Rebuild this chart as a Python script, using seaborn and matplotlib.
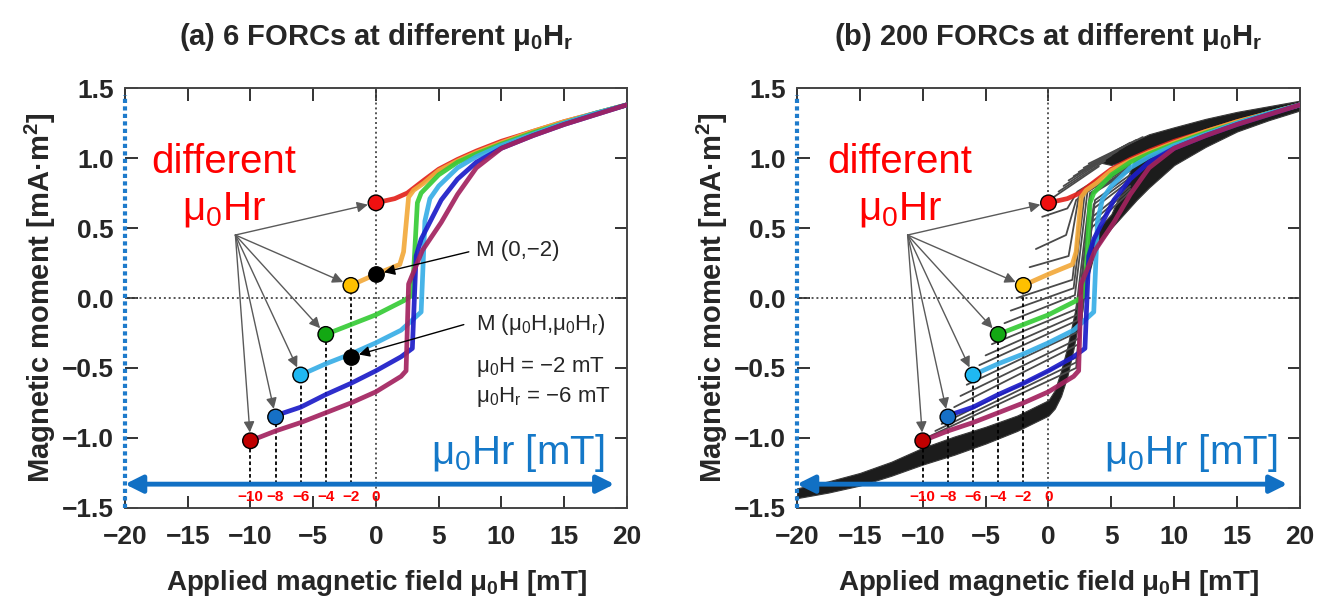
import matplotlib
matplotlib.use("Agg")
import matplotlib.pyplot as plt
import pandas as pd
import seaborn as sns

# ---- data ----
x_ticks = [-20, -15, -10, -5, 0, 5, 10, 15, 20]
y_ticks = [-1.5, -1.0, -0.5, 0.0, 0.5, 1.0, 1.5]
x_ticklabels = ["\u221220", "\u221215", "\u221210", "\u22125", "0", "5", "10", "15", "20"]
y_ticklabels = ["\u22121.5", "\u22121.0", "\u22120.5", "0.0", "0.5", "1.0", "1.5"]

# reversal fields of the 6 coloured FORCs and moment at reversal
hr_list = [0, -2, -4, -6, -8, -10]
hr_labels = ["0", "\u22122", "\u22124", "\u22126", "\u22128", "\u221210"]
m_start = [0.68, 0.09, -0.26, -0.55, -0.85, -1.02]
line_colors = ["#E3221C", "#F2A93B", "#36CB36", "#38AEE6", "#1C1CC8", "#A3235F"]
dot_colors = ["#F01010", "#FFC000", "#13A813", "#1FB8F2", "#1670C6", "#C00000"]

H_0 = [0, 1.5, 2.5, 3.8, 5, 6.5, 8, 10, 12.5, 15, 17.5, 20]
M_0 = [0.68, 0.71, 0.75, 0.84, 0.92, 0.99, 1.05, 1.12, 1.19, 1.26, 1.32, 1.38]
H_2 = [-2, 0, 1.9, 2.2, 2.6, 3.0, 3.8, 5, 6.5, 8, 10, 12.5, 15, 17.5, 20]
M_2 = [0.09, 0.17, 0.24, 0.33, 0.72, 0.77, 0.82, 0.91, 0.98, 1.04, 1.11, 1.19, 1.26, 1.32, 1.38]
H_4 = [-4, -2, 0, 2.2, 2.9, 3.3, 3.6, 5, 6.5, 8, 10, 12.5, 15, 17.5, 20]
M_4 = [-0.26, -0.19, -0.12, -0.02, 0.02, 0.68, 0.75, 0.88, 0.97, 1.03, 1.10, 1.18, 1.25, 1.32, 1.38]
H_6 = [-6, -4, -2, 0, 2, 3.6, 3.9, 4.3, 5, 6.5, 8, 10, 12.5, 15, 17.5, 20]
M_6 = [-0.55, -0.47, -0.40, -0.32, -0.23, -0.10, 0.55, 0.71, 0.80, 0.93, 1.01, 1.09, 1.17, 1.25, 1.32, 1.38]
H_8 = [-8, -6, -4, -2, 0, 2, 2.9, 3.2, 3.6, 5.2, 6.5, 8, 10, 12.5, 15, 17.5, 20]
M_8 = [-0.84, -0.78, -0.69, -0.61, -0.52, -0.42, -0.36, 0.30, 0.42, 0.70, 0.85, 0.97, 1.07, 1.16, 1.24, 1.31, 1.38]
H_10 = [-10, -8, -6, -4, -2, 0, 2, 2.4, 2.6, 3.7, 5.2, 6.5, 8, 10, 12.5, 15, 17.5, 20]
M_10 = [-1.02, -0.95, -0.89, -0.82, -0.75, -0.67, -0.56, -0.52, 0.10, 0.34, 0.54, 0.74, 0.93, 1.07, 1.16, 1.24, 1.31, 1.38]
forc_H = [H_0, H_2, H_4, H_6, H_8, H_10]
forc_M = [M_0, M_2, M_4, M_6, M_8, M_10]

# extra grey FORCs of panel (b): start, knee, top of jump, end
gray_Hr = [-9.5, -9, -8.5, -7.5, -7, -6.5, -5.5, -5, -4.5, -3.5, -3, -2.5, -1.5, -1, -0.5]
gray_M0 = [-0.99, -0.95, -0.90, -0.78, -0.70, -0.62, -0.48, -0.41, -0.33, -0.18, -0.09, 0.00, 0.22, 0.35, 0.58]
gray_Hk = [2.2, 2.2, 2.3, 2.4, 2.4, 2.4, 2.3, 2.3, 2.2, 2.1, 2.0, 1.9, 1.6, 1.4, 1.5]
gray_Mk = [-0.50, -0.46, -0.42, -0.33, -0.29, -0.24, -0.16, -0.12, -0.08, 0.02, 0.07, 0.13, 0.30, 0.45, 0.64]
gray_Ht = [3.4, 3.4, 3.5, 3.6, 3.6, 3.7, 3.4, 3.4, 3.3, 3.1, 2.9, 2.7, 2.4, 2.2, 2.3]
gray_Mt = [0.50, 0.54, 0.58, 0.64, 0.67, 0.70, 0.74, 0.75, 0.75, 0.76, 0.76, 0.75, 0.72, 0.70, 0.76]
gray_He = [6.5, 6.5, 6.5, 6.5, 6.5, 6.5, 6.5, 6.5, 6.5, 6.5, 6.5, 6.5, 6.5, 6.5, 6.5]
gray_Me = [0.76, 0.78, 0.80, 0.84, 0.86, 0.88, 0.91, 0.92, 0.93, 0.94, 0.95, 0.96, 0.97, 0.98, 0.99]

fan_Hr = [0.4, 0.8, 1.2, 1.6, 2.0, 2.4, 2.8, 3.2]
fan_M0 = [0.72, 0.76, 0.80, 0.84, 0.87, 0.90, 0.93, 0.96]
fan_He = [4.0, 4.5, 5.0, 5.5, 6.0, 6.5, 7.0, 7.5]
fan_Me = [0.94, 0.98, 1.02, 1.05, 1.08, 1.11, 1.13, 1.15]

# dense black bundle of the many FORCs in panel (b)
band_H = [-20, -17.5, -15, -12.5, -10, -7.5, -5, -2.5, 0, 0.5, 1, 1.5, 2, 2.5, 3, 3.5, 4,
          5, 6, 7, 8, 10, 12.5, 15, 17.5, 20]
band_lo = [-1.43, -1.39, -1.34, -1.27, -1.19, -1.12, -1.04, -0.95, -0.84, -0.79, -0.70, -0.56,
           -0.36, -0.12, 0.10, 0.27, 0.38, 0.50, 0.60, 0.70, 0.79, 0.95, 1.08, 1.19, 1.27, 1.34]
band_hi = [-1.36, -1.31, -1.25, -1.17, -1.07, -0.99, -0.92, -0.84, -0.73, -0.66, -0.52, -0.35,
           -0.14, 0.08, 0.28, 0.42, 0.50, 0.60, 0.80, 1.02, 1.06, 1.12, 1.19, 1.26, 1.32, 1.38]
cap_H = [4, 5, 6, 7, 8, 10, 12.5, 15, 17.5, 20]
cap_lo = [0.97, 0.95, 0.98, 1.02, 1.06, 1.12, 1.19, 1.26, 1.32, 1.38]
cap_hi = [1.00, 1.04, 1.09, 1.13, 1.17, 1.22, 1.28, 1.33, 1.37, 1.41]

arrow_origin = (-11.2, 0.45)
hr_axis_y = -1.33

sns.set_theme(style="ticks")
plt.rcParams["font.family"] = ["Liberation Sans", "DejaVu Sans"]
plt.rcParams["mathtext.fontset"] = "custom"
plt.rcParams["mathtext.rm"] = "Liberation Sans"
plt.rcParams["mathtext.it"] = "Liberation Sans:italic"
plt.rcParams["mathtext.bf"] = "Liberation Sans:bold"

fig = plt.figure(figsize=(13.21, 5.99), dpi=100)
ax_a = fig.add_axes([0.0946, 0.152, 0.380, 0.701])
ax_b = fig.add_axes([0.6033, 0.152, 0.3808, 0.701])


def frame(ax, title):
    ax.set_xlim(-20, 20)
    ax.set_ylim(-1.5, 1.5)
    ax.set_xticks(x_ticks)
    ax.set_yticks(y_ticks)
    ax.set_xticklabels(x_ticklabels, fontsize=19, fontweight="bold")
    ax.set_yticklabels(y_ticklabels, fontsize=19, fontweight="bold")
    ax.tick_params(direction="in", length=9, width=1.4, top=True, right=True,
                   color="#333333", pad=8)
    ax.tick_params(axis="x", pad=12)
    for s in ax.spines.values():
        s.set_color("#444444")
        s.set_linewidth(1.4)
    ax.spines["left"].set_visible(False)
    ax.set_title(title, fontsize=21, fontweight="bold", pad=31)
    ax.axhline(0, color="#555555", lw=1.4, ls=(0, (1, 1.5)), zorder=1)
    ax.axvline(0, color="#555555", lw=1.4, ls=(0, (1, 1.5)), zorder=1)
    # blue dotted field axis on the left edge
    ax.plot([-20, -20], [-1.5, 1.45], color="#1E7BCB", lw=3,
            ls=(0, (1, 0.8)), clip_on=False, zorder=6)


def labels(ax):
    ax.set_xlabel("Applied magnetic field \u03bc$_\\mathbf{0}$H [mT]",
                  fontsize=20, fontweight="bold", labelpad=14)
    ax.set_ylabel("Magnetic moment [mA\u00b7m$^\\mathbf{2}$]",
                  fontsize=21, fontweight="bold", labelpad=3)


def forcs(ax):
    for h, m, c in zip(forc_H, forc_M, line_colors):
        df = pd.DataFrame({"H": h, "M": m})
        sns.lineplot(data=df, x="H", y="M", ax=ax, sort=False, estimator=None,
                     color=c, lw=3.4, alpha=0.92, zorder=4)


def decorations(ax, text_x):
    # dashed drop lines and red Hr labels
    ax.vlines(hr_list[1:], hr_axis_y, m_start[1:], colors="black", lw=1.3,
              linestyles=(0, (2, 1.5)), zorder=3)
    for h, lab in zip(hr_list, hr_labels):
        ax.text(h, -1.425, lab, color="#FF0000", fontsize=11, fontweight="bold",
                ha="center", va="center", zorder=7)
    ax.annotate("", xy=(-20, hr_axis_y), xytext=(19, hr_axis_y),
                arrowprops=dict(arrowstyle="<|-|>", color="#1170C4", lw=3.5,
                                mutation_scale=26, shrinkA=0, shrinkB=0),
                annotation_clip=False, zorder=6)
    # pointer arrows from the label to each reversal point
    for h, m in zip(hr_list, m_start):
        ax.annotate("", xy=(h, m), xytext=arrow_origin,
                    arrowprops=dict(arrowstyle="-|>", color="#5A5A5A", lw=1.0,
                                    mutation_scale=16, shrinkA=0, shrinkB=6),
                    zorder=5)
    pts = pd.DataFrame({"H": hr_list, "M": m_start, "hr": hr_labels})
    sns.scatterplot(data=pts, x="H", y="M", hue="hr",
                    palette=dict(zip(hr_labels, dot_colors)), s=125,
                    edgecolor="black", linewidth=1.0, legend=False, ax=ax, zorder=8)
    ax.text(text_x, 0.97, "different", color="#FF0000", fontsize=29,
            ha="center", va="center", zorder=7)
    ax.text(text_x, 0.63, "\u03bc$_\\mathregular{0}$Hr", color="#FF0000", fontsize=29,
            ha="center", va="center", zorder=7)
    ax.text(11.3, -1.11, "\u03bc$_\\mathregular{0}$Hr [mT]", color="#1478C8",
            fontsize=29, ha="center", va="center", zorder=7)


# ---- panel (a) ----
frame(ax_a, "(a) 6 FORCs at different \u03bc$_\\mathbf{0}$H$_\\mathbf{r}$")
forcs(ax_a)
decorations(ax_a, -12.1)
labels(ax_a)
black_pts = pd.DataFrame({"H": [0, -2], "M": [0.17, -0.42]})
sns.scatterplot(data=black_pts, x="H", y="M", color="black", s=125,
                edgecolor="black", legend=False, ax=ax_a, zorder=8)
ax_a.annotate("", xy=(0, 0.17), xytext=(7.4, 0.33),
              arrowprops=dict(arrowstyle="-|>", color="black", lw=1.0,
                              mutation_scale=16, shrinkA=0, shrinkB=6), zorder=5)
ax_a.annotate("", xy=(-2, -0.42), xytext=(7.0, -0.19),
              arrowprops=dict(arrowstyle="-|>", color="black", lw=1.0,
                              mutation_scale=16, shrinkA=0, shrinkB=6), zorder=5)
ax_a.text(8, 0.34, "M (0,\u22122)", fontsize=16, va="center", ha="left")
ax_a.text(8, -0.19, "M (\u03bc$_\\mathregular{0}$H,\u03bc$_\\mathregular{0}$H$_\\mathregular{r}$)",
          fontsize=16, va="center", ha="left")
ax_a.text(8, -0.49, "\u03bc$_\\mathregular{0}$H = \u22122 mT", fontsize=16, va="center", ha="left")
ax_a.text(8, -0.71, "\u03bc$_\\mathregular{0}$H$_\\mathregular{r}$ = \u22126 mT", fontsize=16,
          va="center", ha="left")

# ---- panel (b) ----
frame(ax_b, "(b) 200 FORCs at different \u03bc$_\\mathbf{0}$H$_\\mathbf{r}$")
ax_b.fill_between(band_H, band_lo, band_hi, color="#1C1C1C", lw=0.8,
                  edgecolor="#3A3A3A", zorder=2)
ax_b.fill_between(cap_H, cap_lo, cap_hi, color="#1C1C1C", lw=0.8,
                  edgecolor="#3A3A3A", zorder=2)
for i in range(len(gray_Hr)):
    g = pd.DataFrame({"H": [gray_Hr[i], gray_Hk[i], gray_Ht[i], gray_He[i]],
                      "M": [gray_M0[i], gray_Mk[i], gray_Mt[i], gray_Me[i]]})
    sns.lineplot(data=g, x="H", y="M", ax=ax_b, sort=False, estimator=None,
                 color="#4A4A4A", lw=1.3, zorder=3)
for i in range(len(fan_Hr)):
    g = pd.DataFrame({"H": [fan_Hr[i], fan_He[i]], "M": [fan_M0[i], fan_Me[i]]})
    sns.lineplot(data=g, x="H", y="M", ax=ax_b, sort=False, estimator=None,
                 color="#4A4A4A", lw=1.3, zorder=3)
forcs(ax_b)
decorations(ax_b, -11.8)
labels(ax_b)

fig.savefig("out.png", dpi=100)
